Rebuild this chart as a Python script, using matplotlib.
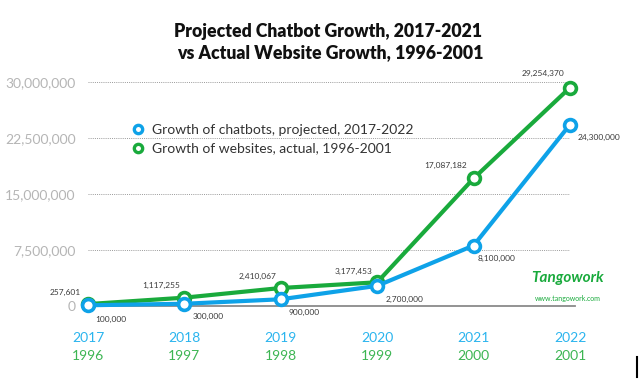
import matplotlib
matplotlib.use("Agg")
import matplotlib.pyplot as plt
from matplotlib.lines import Line2D

plt.rcParams['font.family'] = ['Lato', 'DejaVu Sans']

chatbot_years = ["2017", "2018", "2019", "2020", "2021", "2022"]
website_years = ["1996", "1997", "1998", "1999", "2000", "2001"]
chatbots = [100000, 300000, 900000, 2700000, 8100000, 24300000]
websites = [257601, 1117255, 2410067, 3177453, 17087182, 29254370]
yticks = [0, 7500000, 15000000, 22500000, 30000000]

BLUE = "#0ea2e8"
GREEN = "#19aa3c"
BLUE_TXT = "#2ab4ee"
GREEN_TXT = "#3cb552"

fig = plt.figure(figsize=(6.44, 3.79), dpi=100)
ax = fig.add_axes([88/644, 73/379, (570-88)/644, (306-82)/379])
x = list(range(len(chatbot_years)))

for v in yticks[1:]:
    ax.axhline(v, color="#9a9a9a", lw=0.7, ls=(0, (1, 1.2)), zorder=0)
ax.plot([0, 5.05], [0, 0], color="#8a8a8a", lw=1.3, zorder=0, clip_on=False)

ax.plot(x, websites, color=GREEN, lw=3, marker="o", ms=8.5, mfc="white",
        mec=GREEN, mew=2.6, clip_on=False, zorder=3)
ax.plot(x, chatbots, color=BLUE, lw=3, marker="o", ms=8.5, mfc="white",
        mec=BLUE, mew=2.6, clip_on=False, zorder=4)

# value labels (offsets in points)
web_off = [(-16.5, 8), (-16.5, 8.5), (-17, 8.5), (-17, 8), (-20, 9), (-19.5, 10)]
bot_off = [(16.5, -10), (17, -9.5), (17, -9.5), (20, -10), (16.5, -9), (21, -9)]
for i in x:
    ax.annotate(f"{websites[i]:,}", (i, websites[i]), xytext=web_off[i],
                textcoords="offset points", ha="center", va="center",
                fontsize=6, color="#3a3a3a", annotation_clip=False)
    ax.annotate(f"{chatbots[i]:,}", (i, chatbots[i]), xytext=bot_off[i],
                textcoords="offset points", ha="center", va="center",
                fontsize=6, color="#3a3a3a", annotation_clip=False)

ax.set_xlim(0, 5)
ax.set_ylim(0, 30000000)
ax.set_yticks(yticks)
ax.set_yticklabels([f"{v:,}" for v in yticks], color="#b5b5b5", fontsize=10)
ax.set_xticks(x)
ax.set_xticklabels(chatbot_years, color=BLUE_TXT, fontsize=10)
ax.tick_params(axis="both", length=0)
ax.tick_params(axis="y", pad=9)
ax.tick_params(axis="x", pad=19)
for i in x:
    ax.text(i, -0.222, website_years[i], transform=ax.get_xaxis_transform(),
            ha="center", va="center", color=GREEN_TXT, fontsize=10)
for s in ax.spines.values():
    s.set_visible(False)

handles = [
    Line2D([], [], ls="none", marker="o", ms=6, mfc="white", mec=BLUE, mew=2.4),
    Line2D([], [], ls="none", marker="o", ms=6, mfc="white", mec=GREEN, mew=2.4),
]
fig.legend(handles, ["Growth of chatbots, projected, 2017-2022",
                     "Growth of websites, actual, 1996-2001"],
           loc="center left", bbox_to_anchor=(117/644, 1-139/379), frameon=False,
           fontsize=10, handletextpad=0.4, labelspacing=0.5, handlelength=1.2,
           labelcolor="#333333")

fig.text(328/644, 1-32/379, "Projected Chatbot Growth, 2017-2021",
         ha="center", va="center", fontsize=12.7, fontweight="heavy", color="#111111")
fig.text(330/644, 1-53/379, "vs Actual Website Growth, 1996-2001",
         ha="center", va="center", fontsize=12.7, fontweight="heavy", color="#111111")

fig.text(568/644, 1-278/379, "Tangowork", ha="center", va="center",
         fontsize=11, fontweight="bold", style="italic", color=GREEN)
fig.text(568/644, 1-298/379, "www.tangowork.com", ha="center", va="center",
         fontsize=5, color=GREEN)

fig.add_artist(Line2D([637/644, 637/644], [1-377/379, 1-357/379], color="black", lw=1.5))

fig.savefig("out.png", dpi=100)
